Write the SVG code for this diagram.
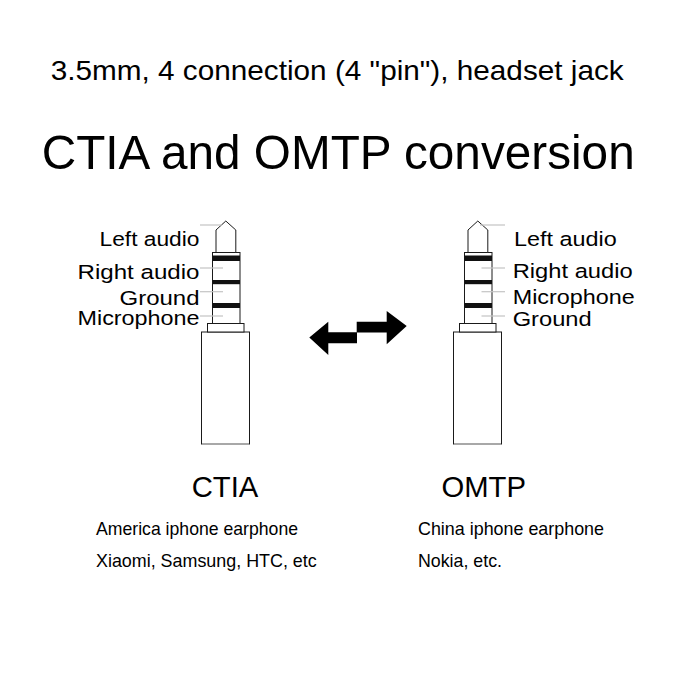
<svg xmlns="http://www.w3.org/2000/svg" width="700" height="700" viewBox="0 0 700 700">
<style>
text{font-family:"Liberation Sans",Arial,sans-serif;fill:#000}
.lbl{font-size:20.5px}
.sub{font-size:17.7px}
.std{font-size:29.5px}
.out{fill:#fff;stroke:#1a1a1a;stroke-width:1}
.band{fill:#111}
.lead{stroke:#c4c4c4;stroke-width:1.2;fill:none}
.base{stroke:#c4c4c4;stroke-width:1.2}
</style>
<defs>
<g id="jack">
<rect class="out" x="201.5" y="332" width="48" height="112"/>
<line class="base" x1="202" y1="444" x2="249" y2="444"/>
<rect class="out" x="207.5" y="323.5" width="36.5" height="8.5"/>
<rect class="out" x="212.5" y="252.5" width="27.5" height="71"/>
<rect class="band" x="212.5" y="255.5" width="27.5" height="5.5"/>
<rect class="band" x="212.5" y="280" width="27.5" height="4.2"/>
<rect class="band" x="212.5" y="303" width="27.5" height="5"/>
<path class="out" d="M216,252.5 V230 L225.8,221 L235.8,230 V252.5 Z"/>
</g>
</defs>
<rect width="700" height="700" fill="#fff"/>
<g id="titles">
<text x="50.7" y="80" font-size="28" textLength="573" lengthAdjust="spacingAndGlyphs">3.5mm, 4 connection (4 "pin"), headset jack</text>
<text x="41.7" y="168.8" font-size="48.5" textLength="593" lengthAdjust="spacingAndGlyphs">CTIA and OMTP conversion</text>
</g>
<g id="ctia-jack">
<use href="#jack"/>
<g class="leaders">
<line class="lead" x1="200" y1="225" x2="222" y2="225"/>
<line class="lead" x1="200" y1="268" x2="223" y2="268"/>
<line class="lead" x1="200" y1="291.7" x2="223" y2="291.7"/>
<line class="lead" x1="200" y1="316" x2="223" y2="316"/>
</g>
<text class="lbl" x="199.5" y="246" text-anchor="end" textLength="100" lengthAdjust="spacingAndGlyphs">Left audio</text>
<text class="lbl" x="199.5" y="278.5" text-anchor="end" textLength="122" lengthAdjust="spacingAndGlyphs">Right audio</text>
<text class="lbl" x="199.5" y="304.5" text-anchor="end" textLength="80" lengthAdjust="spacingAndGlyphs">Ground</text>
<text class="lbl" x="199.5" y="325" text-anchor="end" textLength="122" lengthAdjust="spacingAndGlyphs">Microphone</text>
</g>
<g id="omtp-jack">
<use href="#jack" transform="translate(252,0)"/>
<g class="leaders">
<line class="lead" x1="480" y1="225" x2="505" y2="225"/>
<line class="lead" x1="481.5" y1="268" x2="505" y2="268"/>
<line class="lead" x1="481.5" y1="291.7" x2="505" y2="291.7"/>
<line class="lead" x1="481.5" y1="316" x2="505" y2="316"/>
</g>
<text class="lbl" x="514" y="245.5" textLength="102.7" lengthAdjust="spacingAndGlyphs">Left audio</text>
<text class="lbl" x="512.7" y="278" textLength="120" lengthAdjust="spacingAndGlyphs">Right audio</text>
<text class="lbl" x="512.7" y="303.5" textLength="122" lengthAdjust="spacingAndGlyphs">Microphone</text>
<text class="lbl" x="512.7" y="325.5" textLength="79" lengthAdjust="spacingAndGlyphs">Ground</text>
</g>
<g id="connectors">
<polygon fill="#000" points="309.3,337.5 328.3,321.7 328.3,332.3 357,332.3 357,343.3 328.3,343.3 328.3,355"/>
<polygon fill="#000" points="356.7,321.7 386.7,321.7 386.7,311 406.7,326 386.7,344.3 386.7,332.5 356.7,332.5"/>
</g>
<g id="ctia-info">
<text class="std" x="191.7" y="496.5" textLength="66.6" lengthAdjust="spacingAndGlyphs">CTIA</text>
<text class="sub" x="96" y="534.5" textLength="202" lengthAdjust="spacingAndGlyphs">America iphone earphone</text>
<text class="sub" x="96" y="566.5" textLength="220.7" lengthAdjust="spacingAndGlyphs">Xiaomi, Samsung, HTC, etc</text>
</g>
<g id="omtp-info">
<text class="std" x="441.5" y="496.5" textLength="84.5" lengthAdjust="spacingAndGlyphs">OMTP</text>
<text class="sub" x="418" y="534.5" textLength="186" lengthAdjust="spacingAndGlyphs">China iphone earphone</text>
<text class="sub" x="418" y="566.5" textLength="84" lengthAdjust="spacingAndGlyphs">Nokia, etc.</text>
</g>
</svg>
